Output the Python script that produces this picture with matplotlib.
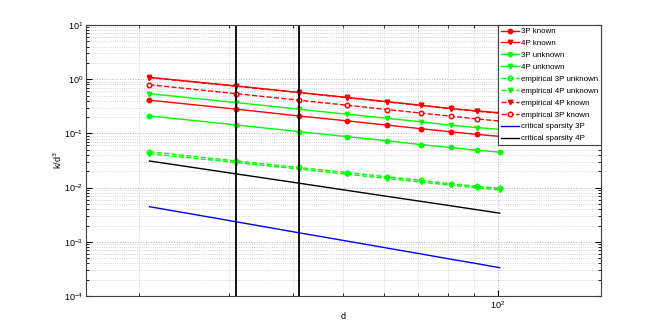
import matplotlib
matplotlib.use("Agg")
import matplotlib.pyplot as plt

# dimension d and the curves
d = [21, 31, 41, 51, 61, 71, 81, 91, 101]

known_3p = [0.41, 0.28, 0.21, 0.17, 0.142, 0.122, 0.107, 0.096, 0.088]
known_4p = [1.08, 0.75, 0.57, 0.46, 0.385, 0.33, 0.288, 0.26, 0.24]
unknown_3p = [0.21, 0.143, 0.108, 0.087, 0.073, 0.062, 0.055, 0.049, 0.045]
unknown_4p = [0.54, 0.37, 0.28, 0.225, 0.19, 0.163, 0.142, 0.128, 0.119]
emp_unknown_3p = [0.046, 0.031, 0.0235, 0.019, 0.0158, 0.0136, 0.0118, 0.0106, 0.0097]
emp_unknown_4p = [0.042, 0.029, 0.022, 0.0176, 0.0147, 0.0126, 0.0111, 0.0099, 0.0091]
emp_known_4p = [1.07, 0.74, 0.565, 0.455, 0.38, 0.328, 0.285, 0.257, 0.236]
emp_known_3p = [0.79, 0.54, 0.41, 0.33, 0.275, 0.237, 0.208, 0.185, 0.169]
crit_3p = [0.00445, 0.00234, 0.00147, 0.00103, 0.000766, 0.000597, 0.000479, 0.000397, 0.000333]
crit_4p = [0.031, 0.0179, 0.0121, 0.00887, 0.00689, 0.00557, 0.00463, 0.00392, 0.00338]

marked_d = [31, 41]

RED = (1, 0, 0)
GREEN = (0, 1, 0)

plt.rcParams["font.family"] = ["Liberation Sans", "DejaVu Sans"]
plt.rcParams["font.size"] = 6.5

fig = plt.figure(figsize=(6.64, 3.33), dpi=100)
ax = fig.add_axes([0.1295, 0.111, 0.7756, 0.814])

ms = 3.2
ax.plot(d, known_3p, "-o", color=RED, lw=1, ms=ms, mfc=RED, label="3P known")
ax.plot(d, known_4p, "-v", color=RED, lw=1, ms=ms, mfc=RED, label="4P known")
ax.plot(d, unknown_3p, "-o", color=GREEN, lw=1, ms=ms, mfc=GREEN, label="3P unknown")
ax.plot(d, unknown_4p, "-v", color=GREEN, lw=1, ms=ms, mfc=GREEN, label="4P unknown")
ax.plot(d, emp_unknown_3p, "--o", color=GREEN, lw=1, ms=ms, mfc="none", mew=1.1,
        label="empirical 3P unknown")
ax.plot(d, emp_unknown_4p, "--v", color=GREEN, lw=1, ms=ms, mfc=GREEN,
        label="empirical 4P unknown")
ax.plot(d, emp_known_4p, "--v", color=RED, lw=1, ms=ms, mfc=RED,
        label="empirical 4P known")
ax.plot(d, emp_known_3p, "--o", color=RED, lw=1, ms=ms, mfc="white", mew=1.1,
        label="empirical 3P known")
ax.plot(d, crit_3p, "-", color="blue", lw=1, label="critical sparsity 3P")
ax.plot(d, crit_4p, "-", color="black", lw=1, label="critical sparsity 4P")

for x in marked_d:
    ax.axvline(x, color="black", lw=1.3)

ax.set_xscale("log")
ax.set_yscale("log")
ax.set_xlim(15.8, 159)
ax.set_ylim(1e-4, 1e1)

ax.grid(True, which="major", linestyle=":", color="#b0b0b0", lw=0.7)
ax.grid(True, which="minor", linestyle=":", color="#c8c8c8", lw=0.6)
ax.tick_params(which="both", direction="in", top=True, right=True, labelsize=6.5, pad=2)
ax.tick_params(which="major", length=4)
ax.tick_params(which="minor", length=2)
ax.xaxis.set_minor_formatter(matplotlib.ticker.NullFormatter())
for s in ax.spines.values():
    s.set_color("#404040")
    s.set_linewidth(0.8)

ax.set_xlabel("d", fontsize=6.5, labelpad=1)
ax.set_ylabel("k/d$^3$", fontsize=6.5, labelpad=0)

leg = ax.legend(loc="upper right", fontsize=5.7, borderaxespad=0, handlelength=2.2,
                handletextpad=0.3, labelspacing=0.55, fancybox=False, framealpha=1,
                borderpad=0.35)
leg.get_frame().set_edgecolor("#404040")
leg.get_frame().set_linewidth(0.8)

fig.savefig("out.png", dpi=100)
